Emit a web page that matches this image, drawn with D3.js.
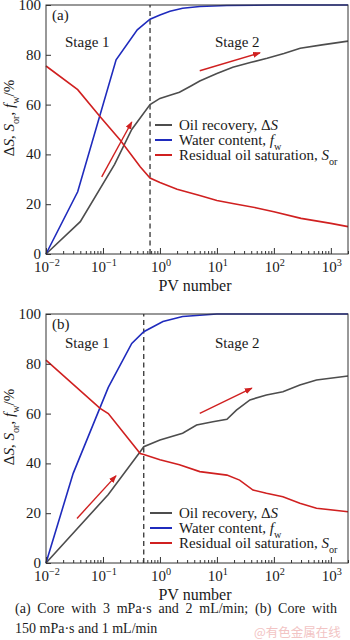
<!DOCTYPE html>
<html>
<head>
<meta charset="utf-8">
<script src="https://cdn.jsdelivr.net/npm/d3@7"></script>
<style>
  body { margin: 0; background: #fff; }
  svg { display: block; }
  text { font-family: "Liberation Serif", "Times New Roman", serif; fill: #1a1a1a; }
</style>
</head>
<body>
<svg id="chart" width="350" height="640"></svg>
<script>
// axis ticks
var pvTicks = [0.01, 0.1, 1, 10, 100, 1000];
var pvExponents = ["\u22122", "\u22121", "0", "1", "2", "3"];
var yTicks = [0, 20, 40, 60, 80, 100];

// panel (a): 3 mPa·s, 2 mL/min
var aRecoveryPV = [0.01, 0.04, 0.16, 0.32, 0.67, 1, 1.5, 2.2, 3.5, 5, 10, 19, 40, 76, 150, 290, 700, 2000];
var aRecovery   = [0, 13, 36, 50, 60, 62.5, 63.8, 65, 67.5, 69.5, 72.5, 75, 77, 78.6, 80.5, 82.6, 84, 85.5];
var aWaterPV = [0.01, 0.036, 0.17, 0.4, 0.67, 1, 1.5, 2.5, 5, 15, 100, 2000];
var aWater   = [0, 25, 78, 90, 94.3, 96, 97.5, 98.7, 99.4, 99.8, 100, 100];
var aResidualPV = [0.01, 0.036, 0.09, 0.2, 0.45, 0.67, 1, 2, 5, 10, 20, 50, 100, 300, 1000, 2000];
var aResidual   = [75.5, 66, 55, 45.8, 35, 30.5, 28.7, 26, 23.5, 21.5, 20.2, 18.5, 17, 14.3, 12.3, 11];
var aArrowPV = [[0.095, 0.32], [5, 57]];
var aArrowY  = [[31, 53], [73.6, 80.8]];

// panel (b): 150 mPa·s, 1 mL/min
var bRecoveryPV = [0.01, 0.124, 0.45, 0.52, 1, 2.5, 4.4, 8.5, 15, 22, 38, 74, 144, 286, 560, 2000];
var bRecovery   = [0, 27.5, 44.7, 46.7, 49.4, 52.1, 55.4, 56.7, 57.7, 61.4, 65.5, 67.5, 68.8, 71.5, 73.5, 75.1];
var bWaterPV = [0.01, 0.03, 0.124, 0.32, 0.52, 1.13, 2.5, 10, 2000];
var bWater   = [0, 36, 70.5, 88.2, 92.9, 97, 99, 100, 100];
var bResidualPV = [0.01, 0.089, 0.124, 0.45, 0.52, 1, 2.2, 5, 15, 25, 43, 74, 144, 286, 560, 2000];
var bResidual   = [81.5, 62.1, 60, 44, 43.6, 41.5, 39.5, 36.7, 35.3, 33.3, 29.3, 28, 26.6, 24, 22, 20.6];
var bArrowPV = [[0.035, 0.169], [5, 41]];
var bArrowY  = [[17.9, 35], [60.1, 70.2]];

var stageBoundary = [0.67, 0.52];

var colors = { recovery: "#4d4d4d", water: "#1f2bbd", residual: "#d02020" };

var svg = d3.select("#chart");

svg.append("defs").append("marker")
    .attr("id", "head")
    .attr("markerUnits", "userSpaceOnUse")
    .attr("markerWidth", 8).attr("markerHeight", 6)
    .attr("refX", 7).attr("refY", 3)
    .attr("orient", "auto")
    .append("path")
    .attr("d", "M0,0 L8,3 L0,6 Z")
    .attr("fill", colors.residual);

var x = d3.scaleLog().domain([0.01, 2000]).range([46, 348]);

// text with italic / sub / sup pieces
function rich(sel, parts, size) {
    var shift = 0;
    parts.forEach(function(p) {
        var t = sel.append("tspan").text(p.t);
        var target = p.sub ? size * 0.3 : (p.sup ? -size * 0.42 : 0);
        if (target !== shift) { t.attr("dy", target - shift); shift = target; }
        if (p.sub || p.sup) t.attr("font-size", size * 0.68);
        if (p.i) t.attr("font-style", "italic");
    });
}

function drawPanel(p) {
    var y = d3.scaleLinear().domain([0, 100]).range([p.top + 249, p.top]);
    var g = svg.append("g");

    var line = d3.line()
        .x(function(d) { return x(d[0]); })
        .y(function(d) { return y(d[1]); });

    // stage boundary
    g.append("line")
        .attr("x1", x(p.boundary)).attr("x2", x(p.boundary))
        .attr("y1", y(0)).attr("y2", y(100))
        .attr("stroke", "#222").attr("stroke-width", 1.2)
        .attr("stroke-dasharray", "5,3.5");

    p.series.forEach(function(s) {
        g.append("path")
            .attr("d", line(d3.zip(s.pv, s.v)))
            .attr("fill", "none")
            .attr("stroke", s.color)
            .attr("stroke-width", 1.6);
    });

    p.arrowPV.forEach(function(a, i) {
        g.append("line")
            .attr("x1", x(a[0])).attr("y1", y(p.arrowY[i][0]))
            .attr("x2", x(a[1])).attr("y2", y(p.arrowY[i][1]))
            .attr("stroke", colors.residual).attr("stroke-width", 1.4)
            .attr("marker-end", "url(#head)");
    });

    // frame
    g.append("rect")
        .attr("x", x.range()[0]).attr("y", y(100))
        .attr("width", x.range()[1] - x.range()[0])
        .attr("height", y(0) - y(100))
        .attr("fill", "none").attr("stroke", "#333").attr("stroke-width", 1);

    // inward ticks
    var minor = x.ticks().filter(function(t) { return pvTicks.indexOf(t) < 0; });
    var xMinor = g.append("g").attr("transform", "translate(0," + y(0) + ")")
        .call(d3.axisBottom(x).tickValues(minor).tickSize(-3).tickFormat(""));
    var xMajor = g.append("g").attr("transform", "translate(0," + y(0) + ")")
        .call(d3.axisBottom(x).tickValues(pvTicks).tickSize(-6).tickFormat(""));
    var yAx = g.append("g").attr("transform", "translate(" + x.range()[0] + ",0)")
        .call(d3.axisLeft(y).tickValues(yTicks).tickSize(-5).tickFormat(""));
    [xMinor, xMajor, yAx].forEach(function(a) {
        a.select(".domain").remove();
        a.selectAll("line").attr("stroke", "#333");
    });

    // tick labels
    pvTicks.forEach(function(t, i) {
        var tx = g.append("text")
            .attr("x", x(t) + 1).attr("y", y(0) + 18)
            .attr("text-anchor", "middle").attr("font-size", 15);
        rich(tx, [{ t: "10" }, { t: pvExponents[i], sup: true }], 15);
    });
    yTicks.forEach(function(t) {
        g.append("text")
            .attr("x", 41).attr("y", y(t) + 5)
            .attr("text-anchor", "end").attr("font-size", 15)
            .text(t);
    });

    g.append("text")
        .attr("x", 195).attr("y", y(0) + 37)
        .attr("text-anchor", "middle").attr("font-size", 16)
        .text("PV number");

    var yl = g.append("text")
        .attr("transform", "translate(14," + (p.top + 113) + ") rotate(-90)")
        .attr("text-anchor", "middle").attr("font-size", 15);
    rich(yl, [{ t: "\u0394" }, { t: "S", i: true }, { t: ", " }, { t: "S", i: true },
              { t: "or", sub: true }, { t: ", " }, { t: "f", i: true }, { t: "w", sub: true },
              { t: "/%" }], 15);

    g.append("text").attr("x", 52).attr("y", p.top + 15).attr("font-size", 15).text(p.tag);
    g.append("text").attr("x", 65).attr("y", p.stageY).attr("font-size", 15).text("Stage 1");
    g.append("text").attr("x", 215).attr("y", p.stageY).attr("font-size", 15).text("Stage 2");

    // legend
    var labels = [
        [{ t: "Oil recovery, \u0394" }, { t: "S", i: true }],
        [{ t: "Water content, " }, { t: "f", i: true }, { t: "w", sub: true }],
        [{ t: "Residual oil saturation, " }, { t: "S", i: true }, { t: "or", sub: true }]
    ];
    p.series.forEach(function(s, i) {
        var ly = p.legendY + i * 15;
        g.append("line")
            .attr("x1", p.legendX).attr("x2", 172)
            .attr("y1", ly).attr("y2", ly)
            .attr("stroke", s.color).attr("stroke-width", 2);
        var lt = g.append("text").attr("x", 179).attr("y", ly + 5).attr("font-size", 15);
        rich(lt, labels[i], 15);
    });
}

drawPanel({
    top: 5, tag: "(a)", stageY: 47, boundary: stageBoundary[0],
    legendX: 155, legendY: 125,
    series: [
        { pv: aRecoveryPV, v: aRecovery, color: colors.recovery },
        { pv: aWaterPV, v: aWater, color: colors.water },
        { pv: aResidualPV, v: aResidual, color: colors.residual }
    ],
    arrowPV: aArrowPV, arrowY: aArrowY
});

drawPanel({
    top: 314, tag: "(b)", stageY: 348, boundary: stageBoundary[1],
    legendX: 150, legendY: 513,
    series: [
        { pv: bRecoveryPV, v: bRecovery, color: colors.recovery },
        { pv: bWaterPV, v: bWater, color: colors.water },
        { pv: bResidualPV, v: bResidual, color: colors.residual }
    ],
    arrowPV: bArrowPV, arrowY: bArrowY
});

// caption, first line justified
var cap1 = svg.append("text")
    .attr("x", 15).attr("y", 613).attr("font-size", 14)
    .text("(a) Core with 3 mPa\u00b7s and 2 mL/min; (b) Core with");
var natural = cap1.node().getComputedTextLength();
var gaps = cap1.text().split(" ").length - 1;
cap1.attr("word-spacing", (322 - natural) / gaps);

svg.append("text")
    .attr("x", 15).attr("y", 633).attr("font-size", 14)
    .text("150 mPa\u00b7s and 1 mL/min");

svg.append("text")
    .attr("x", 254).attr("y", 637)
    .attr("font-size", 12.5)
    .style("font-family", "'Noto Sans CJK SC', sans-serif")
    .style("fill", "#f2c4c4")
    .text("@有色金属在线");
</script>
</body>
</html>
